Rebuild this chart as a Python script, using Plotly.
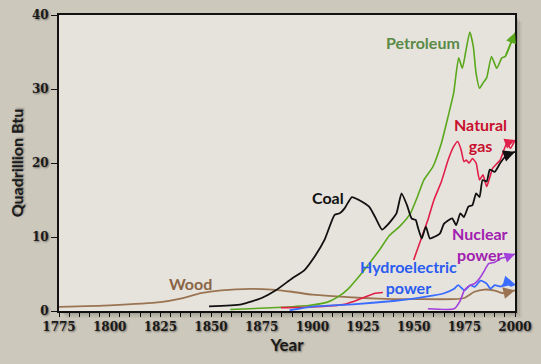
import plotly.graph_objects as go

# ---------------- data ----------------
wood_years = [1775, 1800, 1825, 1835, 1845, 1855, 1870, 1880, 1890, 1900, 1910, 1925, 1940, 1950, 1970, 1975, 1980, 1985, 1990, 1994, 1998, 2000]
wood_vals = [0.55, 0.77, 1.2, 1.67, 2.4, 2.8, 3.0, 2.9, 2.6, 2.2, 2.0, 1.76, 1.6, 1.6, 1.6, 1.76, 2.6, 2.9, 2.75, 2.4, 2.65, 2.8]

coal_years = [1849, 1865, 1875, 1882, 1890, 1896, 1901, 1906, 1911, 1913.5, 1916, 1919.5, 1923, 1928, 1931, 1934.4, 1937, 1941.5, 1944, 1946.7, 1949, 1951, 1952, 1954, 1956, 1958, 1960, 1963, 1965, 1969, 1971, 1973, 1974.8, 1977, 1979, 1980.8, 1982.5, 1984, 1986, 1987.6, 1990, 1992.7, 1996, 2000]
coal_vals = [0.63, 0.9, 1.76, 2.8, 4.4, 5.5, 7.3, 9.6, 13.0, 13.2, 13.9, 15.4, 15.0, 14.1, 12.7, 11.0, 11.6, 13.2, 15.9, 14.3, 12.5, 12.3, 11.4, 9.8, 11.4, 9.8, 10.0, 10.5, 11.8, 12.5, 11.6, 13.2, 12.7, 14.1, 14.3, 15.9, 15.4, 17.7, 17.5, 19.1, 18.8, 20.0, 21.1, 21.5]

petro_years = [1859.5, 1885.4, 1899, 1907.5, 1912.6, 1917.7, 1922.8, 1928, 1933, 1938, 1943, 1948.4, 1951.8, 1955, 1959.5, 1963.7, 1967, 1969.7, 1972.2, 1974, 1975.6, 1977.7, 1979.4, 1980.8, 1982.5, 1984.2, 1986, 1988.4, 1991, 1993.5, 1995.2, 1997.7, 2000]
petro_vals = [0.2, 0.5, 0.77, 1.2, 1.9, 3.0, 4.6, 6.4, 8.2, 10.2, 11.4, 13.2, 15.4, 17.7, 19.5, 22.7, 26.3, 29.4, 34.2, 32.8, 34.9, 37.7, 35.8, 32.1, 30.1, 30.8, 31.5, 34.4, 32.8, 34.2, 34.4, 36.0, 37.6]

# the red line is not visible between 1935 and 1950 (hidden behind the hydro label)
gas_years = [1884.5, 1899, 1916, 1919.5, 1926, 1931, 1934.8, 1942, 1950, 1953.5, 1957, 1960, 1963.7, 1967, 1969.7, 1971.7, 1973.4, 1974.8, 1976, 1977.3, 1979, 1980.8, 1982.5, 1984.2, 1986, 1987.6, 1989, 1992.7, 1996, 1997.7, 2000]
gas_vals = [0.45, 0.55, 0.9, 1.2, 1.9, 2.4, 2.5, None, 6.9, 9.6, 12.3, 15.0, 17.5, 20.4, 22.2, 22.9, 21.8, 20.2, 20.4, 20.0, 20.6, 20.0, 17.7, 18.4, 16.8, 18.1, 19.3, 20.4, 22.7, 22.0, 23.1]

hydro_years = [1888.8, 1900, 1920, 1940, 1950, 1960, 1965, 1970, 1972, 1975, 1978, 1980, 1983, 1986, 1988, 1990, 1993, 1996, 1998, 2000]
hydro_vals = [0.1, 0.6, 0.9, 1.35, 1.67, 2.1, 2.4, 3.0, 3.5, 2.8, 3.5, 3.25, 4.1, 3.7, 3.0, 3.5, 3.3, 3.9, 3.4, 3.6]

nuclear_years = [1957, 1970, 1973, 1975, 1978, 1980, 1983, 1985, 1987, 1990, 1993, 1996, 2000]
nuclear_vals = [0.3, 0.3, 1.4, 2.8, 3.5, 3.7, 4.6, 5.5, 6.4, 6.6, 7.1, 7.3, 7.7]

x_tick_vals = [1775, 1800, 1825, 1850, 1875, 1900, 1925, 1950, 1975, 2000]
y_tick_vals = [0, 10, 20, 30, 40]

# label texts and anchor positions (data units)
label_texts = ["Petroleum", "Natural<br>gas", "Coal", "Nuclear<br>power", "Hydroelectric<br>power", "Wood"]
label_years = [1954.4, 1983, 1907.5, 1982.5, 1947.5, 1839.7]
label_vals = [36.3, 23.8, 15.35, 9.1, 4.55, 3.7]

PAPER = "#cdc8bc"
PLOT_BG = "#e6e3dc"

series = [
    ("Wood", wood_years, wood_vals, "#9a7452", 1.8),
    ("Petroleum", petro_years, petro_vals, "#5aa81c", 1.6),
    ("Natural gas", gas_years, gas_vals, "#e01e48", 1.6),
    ("Hydroelectric power", hydro_years, hydro_vals, "#3a6cff", 1.8),
    ("Nuclear power", nuclear_years, nuclear_vals, "#a33fdc", 1.6),
    ("Coal", coal_years, coal_vals, "#111111", 1.8),
]
label_colors = ["#5a8a46", "#c8102e", "#111111", "#a020b0", "#2a5cf0", "#8a6446"]

fig = go.Figure()
for name, xs, ys, col, w in series:
    fig.add_trace(go.Scatter(x=xs, y=ys, mode="lines", name=name, connectgaps=False,
                             line=dict(color=col, width=w, shape="spline", smoothing=0.5),
                             hoverinfo="skip"))

annotations = []
# arrowheads at series ends (tail taken from a data point a few years back)
for name, xs, ys, col, w in series:
    tail = max(i for i, yr in enumerate(xs) if yr <= xs[-1] - 3.5 and ys[i] is not None)
    annotations.append(dict(x=xs[-1], y=ys[-1], ax=xs[tail], ay=ys[tail], xref="x", yref="y",
                            axref="x", ayref="y", text="", showarrow=True, arrowhead=2,
                            arrowsize=1.3, arrowwidth=w, arrowcolor=col))

for t, lx, ly, c in zip(label_texts, label_years, label_vals, label_colors):
    annotations.append(dict(x=lx, y=ly, xref="x", yref="y", text=t, showarrow=False,
                            font=dict(family="Lato", size=16, color=c, weight="bold"),
                            align="center"))

shadow_font = "1px 1px 2px rgba(0,0,0,0.45)"

L, R, T, B = 59, 26, 15, 53
W, H = 541, 364
PW = W - L - R
PH = H - T - B

shapes = []
# soft drop shadow to the right / below the plot area
for off, op in [(7, 0.06), (5, 0.08), (3, 0.12)]:
    shapes.append(dict(type="rect", xref="paper", yref="paper", layer="below",
                       xsizemode="pixel", ysizemode="pixel", xanchor=0, yanchor=0,
                       x0=off, x1=PW + off, y0=-off, y1=PH - off,
                       line=dict(width=0), fillcolor=f"rgba(40,30,20,{op})"))
# plot background on top of the shadow
shapes.append(dict(type="rect", xref="paper", yref="paper", layer="below",
                   x0=0, x1=1, y0=0, y1=1, line=dict(width=0), fillcolor=PLOT_BG))

fig.update_layout(
    width=W, height=H,
    margin=dict(l=L, r=R, t=T, b=B, autoexpand=False),
    paper_bgcolor=PAPER,
    plot_bgcolor="rgba(0,0,0,0)",
    showlegend=False,
    annotations=annotations,
    shapes=shapes,
    xaxis=dict(range=[1775, 2000], tickvals=x_tick_vals, ticks="outside", ticklen=4,
               tickwidth=1.2, tickcolor="#111", showgrid=False, zeroline=False, automargin=False,
               showline=True, linecolor="#111", linewidth=2, mirror=True,
               minor=dict(dtick=5, tick0=1775, ticks="outside", ticklen=4, tickcolor="#111", tickwidth=1.2),
               tickfont=dict(family="DejaVu Serif", size=12, color="#1a1a1a", weight="bold", shadow=shadow_font),
               title=dict(text="Year", standoff=5,
                          font=dict(family="Lato", size=17, color="#1a1a1a", weight="bold", shadow=shadow_font))),
    yaxis=dict(range=[0, 40], tickvals=y_tick_vals, ticks="outside", ticklen=6,
               tickwidth=1.2, tickcolor="#111", showgrid=False, zeroline=False, automargin=False,
               showline=True, linecolor="#111", linewidth=2, mirror=True,
               tickfont=dict(family="DejaVu Serif", size=12, color="#1a1a1a", weight="bold", shadow=shadow_font),
               title=dict(text="Quadrillion Btu", standoff=4,
                          font=dict(family="Lato", size=16, color="#1a1a1a", weight="bold", shadow=shadow_font))),
)

fig.write_html("out.html", config={"displayModeBar": False},
               post_script="document.body.style.margin='0';document.body.style.background='" + PAPER + "';")
